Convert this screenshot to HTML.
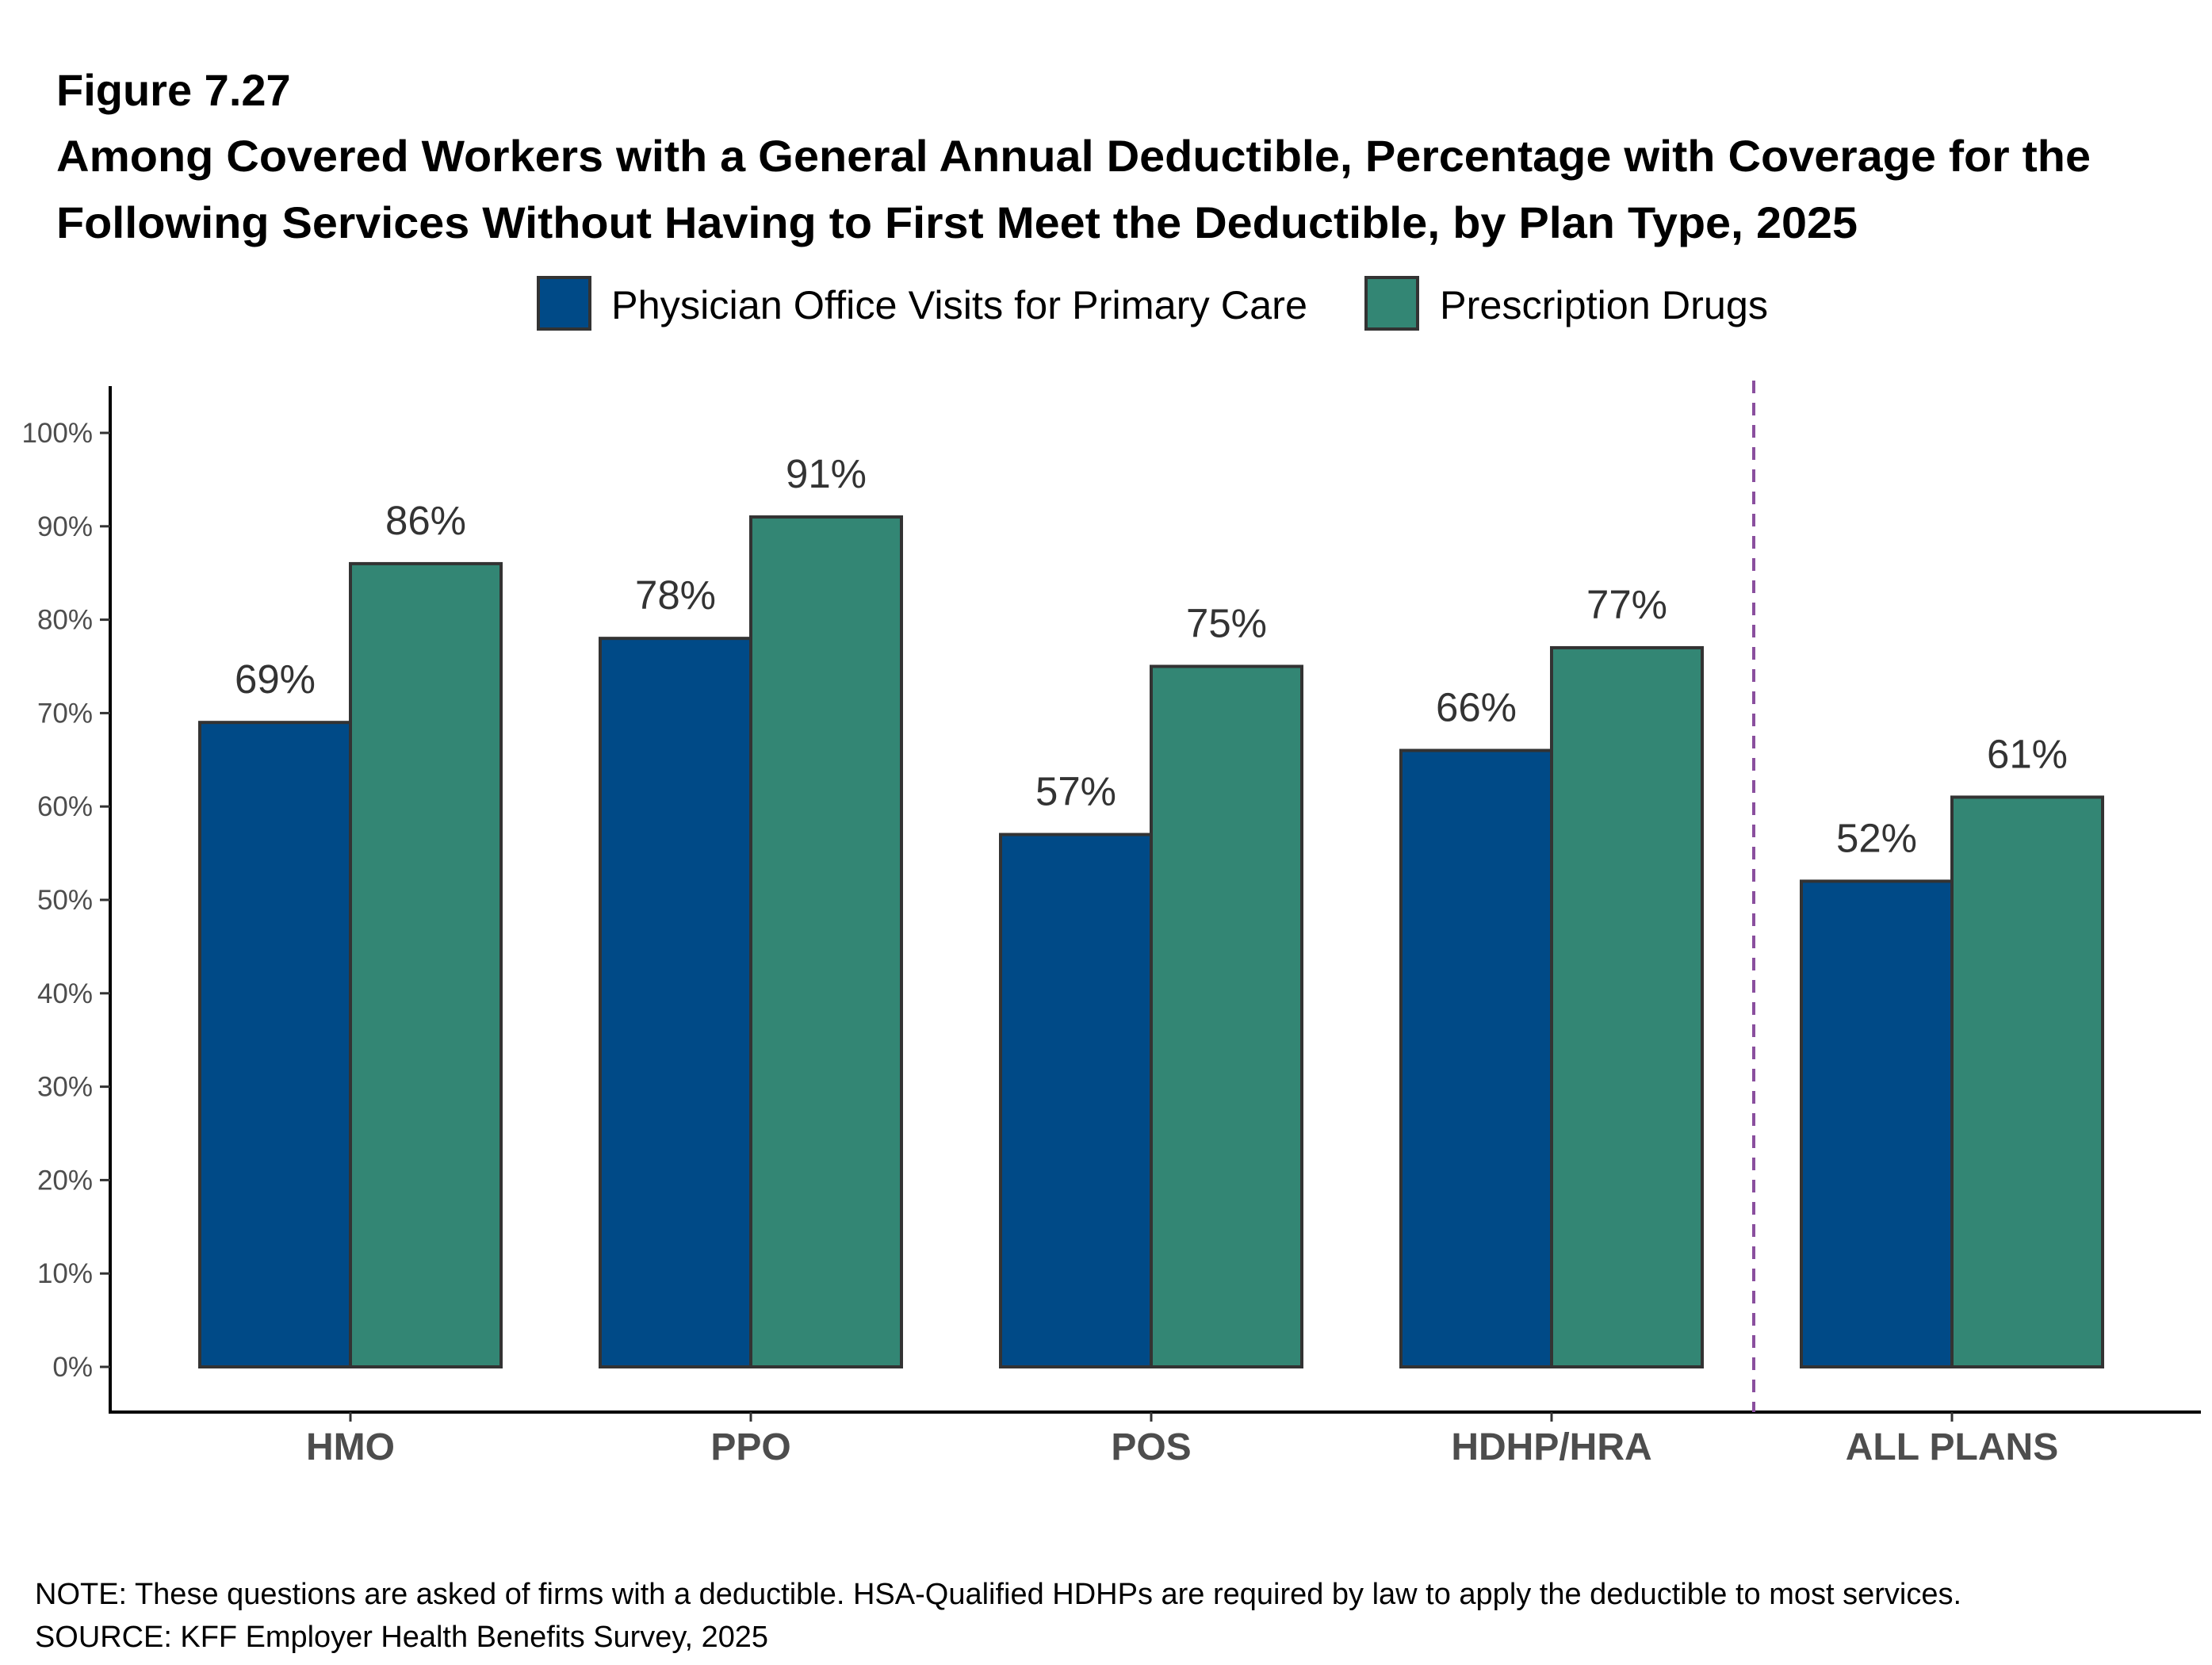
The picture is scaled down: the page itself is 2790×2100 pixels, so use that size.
<!DOCTYPE html>
<html><head><meta charset="utf-8"><style>html,body{margin:0;padding:0;background:#fff}svg{display:block}</style></head>
<body>
<svg id="chart" width="2790" height="2100" viewBox="0 0 2790 2100" xmlns="http://www.w3.org/2000/svg" font-family="'Liberation Sans', Arial, sans-serif">
<rect width="2790" height="2100" fill="#fff"/>
<text x="71" y="133" font-size="56" font-weight="bold" fill="#000">Figure 7.27</text>
<text x="71" y="216" font-size="56" font-weight="bold" fill="#000" textLength="2566" lengthAdjust="spacingAndGlyphs">Among Covered Workers with a General Annual Deductible, Percentage with Coverage for the</text>
<text x="71" y="300" font-size="56" font-weight="bold" fill="#000" textLength="2272" lengthAdjust="spacingAndGlyphs">Following Services Without Having to First Meet the Deductible, by Plan Type, 2025</text>
<g>
<rect x="679" y="350" width="65" height="65" fill="#004a87" stroke="#333" stroke-width="4"/>
<text x="771" y="402" font-size="50" fill="#000" textLength="878" lengthAdjust="spacingAndGlyphs">Physician Office Visits for Primary Care</text>
<rect x="1723" y="350" width="65" height="65" fill="#338674" stroke="#333" stroke-width="4"/>
<text x="1816" y="402" font-size="50" fill="#000" textLength="414" lengthAdjust="spacingAndGlyphs">Prescription Drugs</text>
</g>
<g id="plot"></g>
<text x="44" y="2023" font-size="38" fill="#000" textLength="2430" lengthAdjust="spacingAndGlyphs">NOTE: These questions are asked of firms with a deductible. HSA-Qualified HDHPs are required by law to apply the deductible to most services.</text>
<text x="44" y="2077" font-size="38" fill="#000" textLength="925" lengthAdjust="spacingAndGlyphs">SOURCE: KFF Employer Health Benefits Survey, 2025</text>
</svg>
<script>
const categories = ["HMO","PPO","POS","HDHP/HRA","ALL PLANS"];
const physicianValues = [69,78,57,66,52];
const drugValues = [86,91,75,77,61];
const yTicks = [0,10,20,30,40,50,60,70,80,90,100];

const NS="http://www.w3.org/2000/svg";
const g=document.getElementById('plot');
const y0=1724, yTop100=546;
function yScale(v){return y0-(y0-yTop100)*v/100;}
const x0=442, step=505;
function xScale(i){return x0+i*step;}
const barW=190;
function mk(tag,attrs,text){const e=document.createElementNS(NS,tag);for(const k in attrs)e.setAttribute(k,attrs[k]);if(text!=null)e.textContent=text;g.appendChild(e);return e;}

let e=mk('line',{x1:139,y1:487,x2:139,y2:1783,stroke:'#000','stroke-width':4});


e=mk('line',{x1:137,y1:1781,x2:2776,y2:1781,stroke:'#000','stroke-width':4});


yTicks.forEach(t=>{
  const y=yScale(t);
  let tk=mk('line',{x1:126,y1:y,x2:139,y2:y,stroke:'#333','stroke-width':3});
  
  
  let lb=mk('text',{x:117,y:y+12,'font-size':35,'text-anchor':'end',fill:'#4d4d4d'},t+'%');
  
  
});
e=mk('line',{x1:2212,y1:480,x2:2212,y2:1781,stroke:'#8a4f9e','stroke-width':4,'stroke-dasharray':'16,12'});



categories.forEach((c,i)=>{
  const cx=xScale(i);
  const series=[[physicianValues[i],'#004a87',cx-barW,'physician'],[drugValues[i],'#338674',cx,'prescription']];
  series.forEach(([v,col,x,nm])=>{
    const y=yScale(v);
    let b=mk('rect',{x:x,y:y,width:barW,height:y0-y,fill:col,stroke:'#333','stroke-width':4});
    
    
    let t=mk('text',{x:x+barW/2,y:y-37,'font-size':51,'text-anchor':'middle',fill:'#333'},v+'%');
    
    
  });
  let tk=mk('line',{x1:cx,y1:1781,x2:cx,y2:1793,stroke:'#333','stroke-width':3});
  
  
  let lb=mk('text',{x:cx,y:1841,'font-size':48,'font-weight':'bold','text-anchor':'middle',fill:'#4d4d4d'},c);
  
  
});
</script>
</body></html>
